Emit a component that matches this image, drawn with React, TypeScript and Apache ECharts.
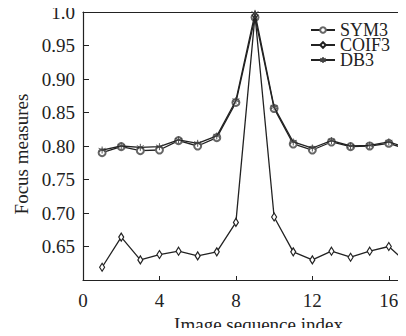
import React, { useEffect, useRef } from "react";
import * as echarts from "echarts";

const xValues = [1, 2, 3, 4, 5, 6, 7, 8, 9, 10, 11, 12, 13, 14, 15, 16, 17];
const sym3 = [0.790, 0.799, 0.793, 0.794, 0.808, 0.800, 0.8125, 0.865, 0.992, 0.856, 0.803, 0.794, 0.806, 0.799, 0.800, 0.804, 0.795];
const coif3 = [0.619, 0.664, 0.630, 0.638, 0.643, 0.636, 0.642, 0.686, 0.995, 0.694, 0.642, 0.630, 0.643, 0.634, 0.643, 0.650, 0.624];
const db3 = [0.794, 0.800, 0.798, 0.799, 0.809, 0.804, 0.815, 0.868, 0.998, 0.858, 0.806, 0.797, 0.808, 0.800, 0.801, 0.806, 0.797];
const seriesNames = ["SYM3", "COIF3", "DB3"];

const FONT = "'Liberation Serif', 'Times New Roman', serif";
const INK = "#222";

export default function App() {
  const ref = useRef<HTMLDivElement>(null);
  useEffect(() => {
    if (!ref.current) return;
    const chart = echarts.init(ref.current, null, { renderer: "svg" });
    const pair = (arr: number[]) => xValues.map((x, i) => [x, arr[i]]);
    const asterisk = "path://M0,-5 L0,5 M-4.3,-2.5 L4.3,2.5 M-4.3,2.5 L4.3,-2.5";
    const diamond = "path://M0,-4 L2,0 L0,4 L-2,0 Z";
    chart.setOption({
      animation: false,
      backgroundColor: "#fff",
      textStyle: { fontFamily: FONT },
      grid: { left: 83, top: 12, right: 0, bottom: 56, containLabel: false, outerBoundsMode: "none" },
      legend: {
        data: seriesNames,
        orient: "vertical",
        left: 310,
        top: 21,
        itemWidth: 24,
        itemHeight: 7,
        itemGap: -3,
        padding: 0,
        textStyle: { fontFamily: FONT, fontSize: 18, color: INK, lineHeight: 14 },
      },
      xAxis: [
        {
          type: "value",
          min: 0,
          max: 16.9,
          interval: 4,
          name: "Image sequence index",
          nameLocation: "middle",
          nameGap: 35,
          nameTextStyle: { fontFamily: FONT, fontSize: 19, color: INK, padding: [0, 0, 0, 28] },
          axisLine: { show: true, lineStyle: { color: INK, width: 1.2 } },
          axisTick: { show: true, inside: true, length: 4, lineStyle: { color: INK } },
          axisLabel: {
            margin: 11,
            fontFamily: FONT,
            fontSize: 19,
            color: INK,
            showMaxLabel: false,
            formatter: (v: number) => (Math.abs(v % 4) < 1e-9 ? String(v) : ""),
          },
          splitLine: { show: false },
        },
        {
          type: "value",
          position: "top",
          min: 0,
          max: 16.9,
          axisLine: { show: true, onZero: false, lineStyle: { color: INK, width: 1.2 } },
          axisTick: { show: false },
          axisLabel: { show: false },
          splitLine: { show: false },
        },
      ],
      yAxis: {
        type: "value",
        min: 0.6,
        max: 1.0,
        interval: 0.05,
        name: "Focus measures",
        nameLocation: "middle",
        nameGap: 43,
        nameTextStyle: { fontFamily: FONT, fontSize: 19, color: INK, padding: [0, 16, 0, 0] },
        axisLine: { show: true, lineStyle: { color: INK, width: 1.2 } },
        axisTick: { show: true, inside: true, length: 6, lineStyle: { color: INK } },
        axisLabel: {
          margin: 8,
          fontFamily: FONT,
          fontSize: 19,
          color: INK,
          formatter: (v: number) => {
            if (Math.abs(v - 1) < 1e-6) return "1.0";
            if (Math.abs(v - 0.6) < 1e-6) return "";
            return v.toFixed(2);
          },
        },
        splitLine: { show: false },
      },
      series: [
        {
          name: "SYM3",
          type: "line",
          data: pair(sym3),
          symbol: "emptyCircle",
          symbolSize: 7,
          lineStyle: { color: INK, width: 1.3 },
          itemStyle: { color: "#666", borderColor: "#666", borderWidth: 0.9 },
          z: 2,
        },
        {
          name: "COIF3",
          type: "line",
          data: pair(coif3),
          symbol: diamond,
          symbolSize: [5, 8],
          lineStyle: { color: INK, width: 1.3 },
          itemStyle: { color: "#fff", borderColor: INK, borderWidth: 1.2 },
          z: 3,
        },
        {
          name: "DB3",
          type: "line",
          data: pair(db3),
          symbol: asterisk,
          symbolSize: 7,
          lineStyle: { color: INK, width: 1.3 },
          itemStyle: { color: "none", borderColor: "#444", borderWidth: 0.9 },
          z: 4,
        },
      ],
    });
    return () => chart.dispose();
  }, []);
  return <div ref={ref} style={{ width: 406, height: 336, margin: -8 }} />;
}
